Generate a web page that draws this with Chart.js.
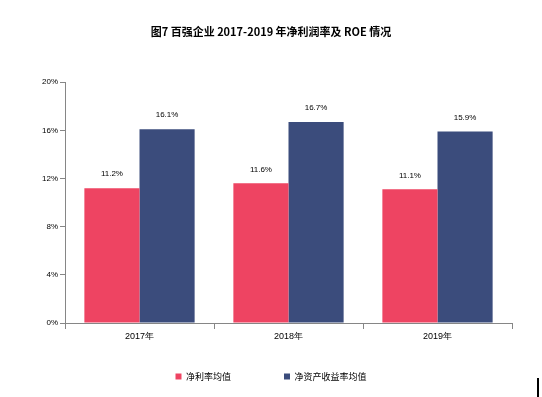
<!DOCTYPE html>
<html>
<head>
<meta charset="utf-8">
<script src="https://cdn.jsdelivr.net/npm/chart.js@4"></script>
<style>
  html, body { margin: 0; padding: 0; background: #fff; }
  #wrap { position: relative; width: 542px; height: 397px; }
  #mark { position: absolute; left: 537px; top: 378px; width: 2px; height: 19px; background: #000; }
</style>
</head>
<body>
<div id="wrap">
  <canvas id="chart" width="542" height="397"></canvas>
  <div id="mark"></div>
</div>
<script>
const years = ['2017年', '2018年', '2019年'];
const netMargin = [11.2, 11.6, 11.1];
const roe = [16.1, 16.7, 15.9];
const yTicks = [0, 4, 8, 12, 16, 20];

const axisColor = '#868686';
const textFont = "'Liberation Sans', Arial, sans-serif";
const cjkFont = "'Noto Sans CJK SC', sans-serif";

// values above each bar
const barLabels = {
  id: 'barLabels',
  afterDatasetsDraw(chart) {
    const { ctx } = chart;
    ctx.save();
    ctx.fillStyle = '#000';
    ctx.font = `8px ${textFont}`;
    ctx.textAlign = 'center';
    ctx.textBaseline = 'middle';
    chart.data.datasets.forEach((ds, i) => {
      chart.getDatasetMeta(i).data.forEach((bar, j) => {
        ctx.fillText(ds.data[j].toFixed(1) + '%', bar.x, bar.y - 14);
      });
    });
    ctx.restore();
  },
};

// legend needs wide horizontal gaps but sits close under the axis
const legendLift = {
  id: 'legendLift',
  afterLayout(chart) {
    const lg = chart.legend;
    lg.top -= 26;
    lg.bottom -= 26;
  },
};

new Chart(document.getElementById('chart'), {
  type: 'bar',
  data: {
    labels: years,
    datasets: [
      {
        label: '净利率均值',
        data: netMargin,
        backgroundColor: '#EE4462',
        categoryPercentage: 0.74,
        barPercentage: 1,
      },
      {
        label: '净资产收益率均值',
        data: roe,
        backgroundColor: '#3B4C7C',
        categoryPercentage: 0.74,
        barPercentage: 1,
      },
    ],
  },
  options: {
    responsive: false,
    animation: false,
    layout: { padding: { top: 0, left: 0, right: 0, bottom: -20 } },
    plugins: {
      title: {
        display: true,
        text: '图7 百强企业 2017-2019 年净利润率及 ROE 情况',
        color: '#000',
        font: { family: cjkFont, size: 11, weight: 'bold' },
        padding: { top: 25, bottom: 44 },
      },
      legend: {
        position: 'bottom',
        labels: {
          color: '#000',
          boxWidth: 6,
          boxHeight: 6,
          padding: 53,
          font: { family: cjkFont, size: 9 },
        },
      },
      tooltip: { enabled: false },
    },
    scales: {
      x: {
        grid: {
          display: true,
          drawOnChartArea: false,
          tickLength: 6,
          color: axisColor,
        },
        border: { color: axisColor, width: 1 },
        ticks: {
          color: '#000',
          font: { family: textFont, size: 9 },
          padding: 2,
        },
        afterFit(scale) {
          scale.height = 22;
        },
      },
      y: {
        min: 0,
        max: 20,
        afterBuildTicks(scale) {
          scale.ticks = yTicks.map((v) => ({ value: v }));
        },
        grid: {
          display: true,
          drawOnChartArea: false,
          tickLength: 5,
          color: axisColor,
        },
        border: { color: axisColor, width: 1 },
        ticks: {
          color: '#000',
          font: { family: textFont, size: 8 },
          padding: 2,
          callback: (v) => v + '%',
        },
        afterFit(scale) {
          scale.width = 65;
        },
      },
      // empty right-hand axis, only reserves the margin
      yRight: {
        position: 'right',
        min: 0,
        max: 20,
        grid: { display: false },
        border: { display: false },
        ticks: { display: false },
        afterFit(scale) {
          scale.width = 30;
        },
      },
    },
  },
  plugins: [barLabels, legendLift],
});
</script>
</body>
</html>
